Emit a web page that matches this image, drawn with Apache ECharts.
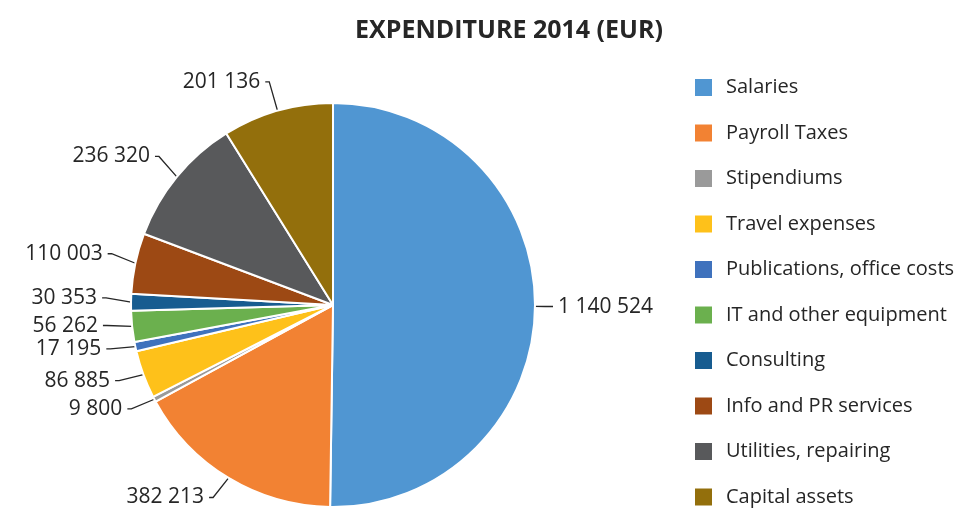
<!DOCTYPE html>
<html>
<head>
<meta charset="utf-8">
<script src="https://cdn.jsdelivr.net/npm/echarts@6/dist/echarts.min.js"></script>
<style>
  html, body { margin: 0; padding: 0; background: #fff; }
  #chart { width: 958px; height: 509px; }
</style>
</head>
<body>
<div id="chart"></div>
<script>
// expenditure categories and amounts (EUR)
var categories = ['Salaries', 'Payroll Taxes', 'Stipendiums', 'Travel expenses', 'Publications, office costs',
  'IT and other equipment', 'Consulting', 'Info and PR services', 'Utilities, repairing', 'Capital assets'];
var amounts = [1140524, 382213, 9800, 86885, 17195, 56262, 30353, 110003, 236320, 201136];
var colors = ['#5096D2', '#F28233', '#9A9A9A', '#FEC11A', '#3F72BD', '#6BB04E', '#175C90', '#9D4914', '#58595B', '#936F0C'];

function fmt(v) {
  return String(v).replace(/\B(?=(\d{3})+(?!\d))/g, ' ');
}

var chart = echarts.init(document.getElementById('chart'));
chart.setOption({
  animation: false,
  color: colors,
  title: {
    text: 'EXPENDITURE 2014 (EUR)',
    left: 504,
    textAlign: 'center',
    top: 13,
    textStyle: { fontFamily: 'Open Sans', fontWeight: 'bold', fontSize: 25, color: '#262626' }
  },
  legend: {
    orient: 'vertical',
    left: 693,
    top: 77,
    padding: 0,
    itemWidth: 19,
    itemHeight: 19,
    itemGap: 24.5,
    icon: 'rect',
    textStyle: { fontFamily: 'Open Sans', fontSize: 20, color: '#262626', padding: [0, 0, 0, 8] },
    data: categories
  },
  series: [{
    type: 'pie',
    center: [333, 305],
    radius: 202,
    startAngle: 90,
    clockwise: true,
    itemStyle: { borderColor: '#fff', borderWidth: 2 },
    label: {
      show: true,
      position: 'outside',
      fontFamily: 'Open Sans',
      fontSize: 21,
      color: '#262626',
      formatter: function (p) { return fmt(p.value); }
    },
    labelLine: {
      show: true,
      length: 30,
      length2: 4,
      lineStyle: { color: '#262626', width: 1.3 }
    },
    data: categories.map(function (c, i) {
      var item = { name: c, value: amounts[i] };
      // the big slice keeps a short leader line
      if (i === 0) item.labelLine = { length: 10, length2: 8 };
      return item;
    })
  }]
});
</script>
</body>
</html>
